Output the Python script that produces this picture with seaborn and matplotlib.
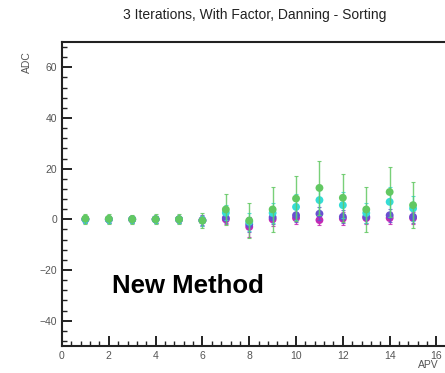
import numpy as np
import pandas as pd
import matplotlib
matplotlib.use("Agg")
import matplotlib.pyplot as plt
import seaborn as sns
from matplotlib.ticker import MultipleLocator

# ---- data ----
apv = [1, 2, 3, 4, 5, 6, 7, 8, 9, 10, 11, 12, 13, 14, 15]
green_y   = [0.3, 0.2, 0.0, 0.0, 0.0, -0.5, 3.9, -0.5, 3.9, 8.2, 12.4, 8.5, 3.9, 10.8, 5.6]
green_err = [2.0, 2.0, 1.8, 2.0, 2.0, 3.0, 6.0, 7.0, 9.0, 9.0, 10.5, 9.5, 9.0, 10.0, 9.0]
cyan_y    = [0.0, 0.0, 0.0, 0.0, 0.0, -0.5, 2.6, -1.0, 2.5, 4.9, 7.6, 5.6, 2.5, 6.9, 4.3]
cyan_err  = [1.5, 1.5, 1.5, 1.5, 1.5, 2.0, 3.0, 3.5, 4.0, 5.0, 6.0, 5.0, 4.0, 6.0, 5.0]
blue_y    = [0.0, 0.0, 0.0, 0.0, 0.0, -0.3, 0.5, -2.0, 0.8, 1.6, 2.2, 1.0, 1.0, 1.6, 1.0]
blue_err  = [1.5, 1.5, 1.5, 1.5, 1.5, 2.0, 2.0, 3.0, 2.5, 2.5, 2.5, 2.5, 2.5, 2.5, 2.5]
mag_y     = [0.0, 0.0, 0.0, 0.0, 0.0, -0.5, 0.0, -3.0, 0.0, 0.5, -0.3, 0.3, 0.5, 0.5, 0.5]
mag_err   = [1.5, 1.5, 1.5, 1.5, 1.5, 2.0, 2.0, 4.0, 2.5, 2.5, 2.0, 2.5, 2.5, 2.5, 2.5]

# drawing order: bottom first, green on top
series_names = ["magenta", "blue", "cyan", "green"]
series_vals = [mag_y, blue_y, cyan_y, green_y]
series_errs = [mag_err, blue_err, cyan_err, green_err]
palette = {"green": "#62c862", "cyan": "#35dcd6", "blue": "#6a4fd0", "magenta": "#c42ab4"}

rows = []
for name, vals, errs in zip(series_names, series_vals, series_errs):
    for x, v, e in zip(apv, vals, errs):
        rows.append({"APV": x, "ADC": v, "err": e, "series": name})
df = pd.DataFrame(rows)

sns.set_theme(style="ticks")
plt.rcParams['font.family'] = ['Liberation Sans', 'DejaVu Sans']

fig = plt.figure(figsize=(4.45, 3.73), dpi=100)
ax = fig.add_axes([62/445, 27/373, 385/445, 304/373])

for i, name in enumerate(series_names):
    sub = df[df["series"] == name]
    ax.errorbar(sub["APV"], sub["ADC"], yerr=sub["err"], fmt="none",
                ecolor=palette[name], elinewidth=1.0, capsize=1.5, capthick=0.8,
                alpha=0.85, zorder=2 + i)
    sns.scatterplot(data=sub, x="APV", y="ADC", color=palette[name],
                    s=32, edgecolor="none", legend=False, ax=ax, zorder=2.5 + i)

ax.set_xlim(0, 16.45)
ax.set_ylim(-50, 70)
ax.xaxis.set_major_locator(MultipleLocator(2))
ax.xaxis.set_minor_locator(MultipleLocator(0.4))
ax.yaxis.set_major_locator(MultipleLocator(20))
ax.yaxis.set_minor_locator(MultipleLocator(4))
ax.tick_params(which="major", direction="in", length=7, width=1.4, color="#222",
               labelsize=7.5, labelcolor="#555")
ax.tick_params(which="minor", direction="in", length=3.5, width=1.0, color="#222")
ax.tick_params(axis="x", which="both", top=False)
ax.tick_params(axis="y", which="both", right=False)
for s in ["left", "bottom", "top"]:
    ax.spines[s].set_linewidth(1.5)
    ax.spines[s].set_color("#222")
ax.spines["right"].set_visible(False)
ax.set_xlabel("")
ax.set_ylabel("")

fig.text(255/445, 1 - 15/373, "3 Iterations, With Factor, Danning - Sorting",
         ha="center", va="center", fontsize=10, color="#222")
fig.text(27/445, 1 - 62/373, "ADC", rotation=90, ha="center", va="center",
         fontsize=7.5, color="#555")
fig.text(428/445, 1 - 365/373, "APV", ha="center", va="center",
         fontsize=7.5, color="#555")
fig.text(188/445, 1 - 286/373, "New Method", ha="center", va="center",
         fontsize=18.5, fontweight="bold", color="black")

fig.savefig("out.png", dpi=100)
